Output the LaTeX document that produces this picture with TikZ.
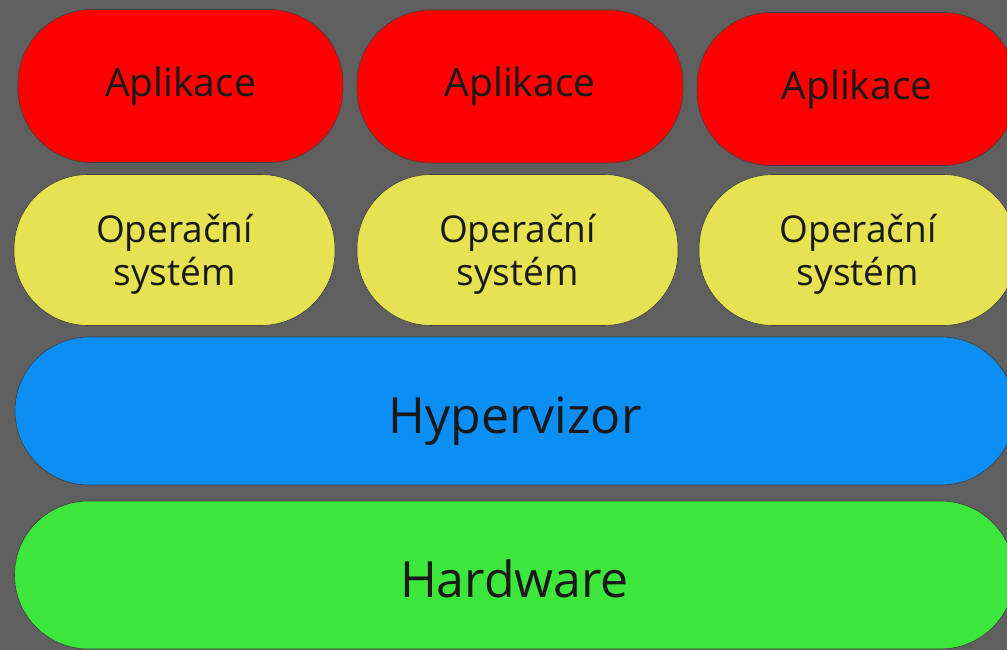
\documentclass[tikz,border=0pt]{standalone}
\usepackage{fontspec}
\setmainfont{Open Sans}

\definecolor{bggray}{RGB}{95,95,95}
\definecolor{appred}{RGB}{254,0,0}
\definecolor{osyellow}{RGB}{230,226,82}
\definecolor{hypblue}{RGB}{12,143,245}
\definecolor{hwgreen}{RGB}{60,230,58}

\begin{document}
\begin{tikzpicture}[x=1pt, y=-1pt,
    layer/.style={draw=black!75, line width=0.6pt, text=black!90, align=center,
      inner sep=0pt, rounded corners=74pt},
    app/.style={layer, fill=appred, minimum height=153pt,
      font=\fontsize{39}{44}\selectfont},
    os/.style={layer, fill=osyellow, minimum height=151pt, text depth=0pt,
      font=\fontsize{37}{43}\selectfont},
    base/.style={layer, fill=#1, minimum width=1000pt, minimum height=148pt,
      text height=44pt, text depth=0pt, font=\fontsize{50}{56}\selectfont}]
    \useasboundingbox (0, 0) rectangle (1007, 650);
    \clip (0, 0) rectangle (1007, 650);
    \fill[bggray] (0, 0) rectangle (1007, 650);

    % aplikace
    \node[app, minimum width=325pt] (app1) at (180.5, 86) {Aplikace};
    \node[app, minimum width=326pt] (app2) at (520, 86.5) {Aplikace};
    \node[app, minimum width=320pt] (app3) at (857, 89) {Aplikace};

    % operacni systemy
    \node[os, minimum width=321pt] (os1) at (174.5, 250) {Operační\\systém};
    \node[os, minimum width=321pt] (os2) at (517.5, 250) {Operační\\systém};
    \node[os, minimum width=318pt] (os3) at (858, 250) {Operační\\systém};

    % spodni vrstvy
    \node[base=hypblue] (hyp) at (515, 411) {Hypervizor};
    \node[base=hwgreen] (hw) at (514.5, 575) {Hardware};
\end{tikzpicture}
\end{document}
